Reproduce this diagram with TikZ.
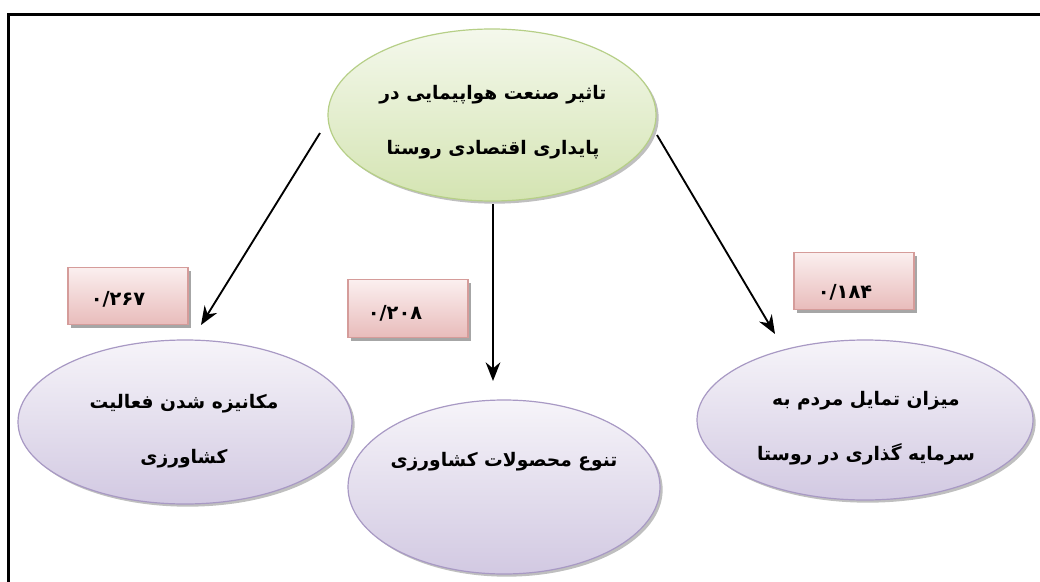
\documentclass[tikz,border=0pt]{standalone}
\usepackage{fontspec}
\usetikzlibrary{shapes.geometric,shadows,arrows.meta}
\TeXXeTstate=1
\newfontfamily\fa[Script=Arabic]{DejaVu Sans}
\definecolor{gTop}{HTML}{F4F8EC}
\definecolor{gBot}{HTML}{D4E4B2}
\definecolor{gLine}{HTML}{B6CF87}
\definecolor{pTop}{HTML}{F6F4F9}
\definecolor{pBot}{HTML}{D2C9E2}
\definecolor{pLine}{HTML}{A899C4}
\definecolor{rTop}{HTML}{FBEFEF}
\definecolor{rBot}{HTML}{E8BCBB}
\definecolor{rLine}{HTML}{D59C9A}
\tikzset{
  oval/.style={ellipse, inner sep=0pt, line width=0.9pt,
    drop shadow={shadow xshift=2pt, shadow yshift=-2pt, fill=black, opacity=0.25}},
  greenoval/.style={oval, draw=gLine, top color=gTop, bottom color=gBot},
  purpleoval/.style={oval, draw=pLine, top color=pTop, bottom color=pBot},
  valbox/.style={rectangle, draw=rLine, line width=0.9pt, top color=rTop, bottom color=rBot,
    minimum width=90pt, minimum height=43pt, inner sep=0pt,
    drop shadow={shadow xshift=2.5pt, shadow yshift=-2.5pt, fill=black, opacity=0.35}},
  ovaltext/.style={align=center, font=\fa\bfseries\fontsize{14}{41}\selectfont, inner sep=0pt},
  valtext/.style={font=\fa\bfseries\fontsize{14.5}{16}\selectfont, inner sep=0pt},
  arr/.style={line width=1.4pt, -{Stealth[length=14pt,width=11pt]}}
}
\begin{document}
\begin{tikzpicture}[x=0.75pt,y=-0.75pt]
\useasboundingbox (0,0) rectangle (1040,582);
\fill[white] (0,0) rectangle (1040,582);
\draw[line width=2.4pt] (8.5,582) -- (8.5,14.5) -- (1040,14.5);

% ellipses
\node[greenoval, minimum width=246pt, minimum height=129pt] (top) at (492,115) {};
\node[purpleoval, minimum width=250.5pt, minimum height=123pt] (left) at (185,422) {};
\node[purpleoval, minimum width=234pt, minimum height=130.5pt] (mid) at (504,487) {};
\node[purpleoval, minimum width=252pt, minimum height=120pt] (right) at (865,420) {};

% texts
\node[ovaltext] (toptext) at (493,122) {\beginR تاثیر صنعت هواپیمایی در\endR\\ \beginR پایداری اقتصادی روستا\endR};
\node[ovaltext] (lefttext) at (184,431) {\beginR مکانیزه شدن فعالیت\endR\\ \beginR کشاورزی\endR};
\node[ovaltext] (midtext) at (504,462) {\beginR تنوع محصولات کشاورزی\endR};
\node[ovaltext] (righttext) at (866,428) {\beginR میزان تمایل مردم به\endR\\ \beginR سرمایه گذاری در روستا\endR};

% value boxes
\node[valbox] (b1) at (128,296) {};
\node[valtext] (v1) at (118,299) {۰/۲۶۷};
\node[valbox] (b2) at (408,308.5) {};
\node[valtext] (v2) at (395,313) {۰/۲۰۸};
\node[valbox] (b3) at (854,281) {};
\node[valtext] (v3) at (845,292) {۰/۱۸۴};

% arrows
\coordinate (a1s) at (320,133);
\coordinate (a1e) at (201,325);
\coordinate (a2s) at (493,204);
\coordinate (a2e) at (493,381);
\coordinate (a3s) at (657,135);
\coordinate (a3e) at (775,334);
\draw[arr] (a1s) -- (a1e);
\draw[arr] (a2s) -- (a2e);
\draw[arr] (a3s) -- (a3e);
\end{tikzpicture}
\end{document}
